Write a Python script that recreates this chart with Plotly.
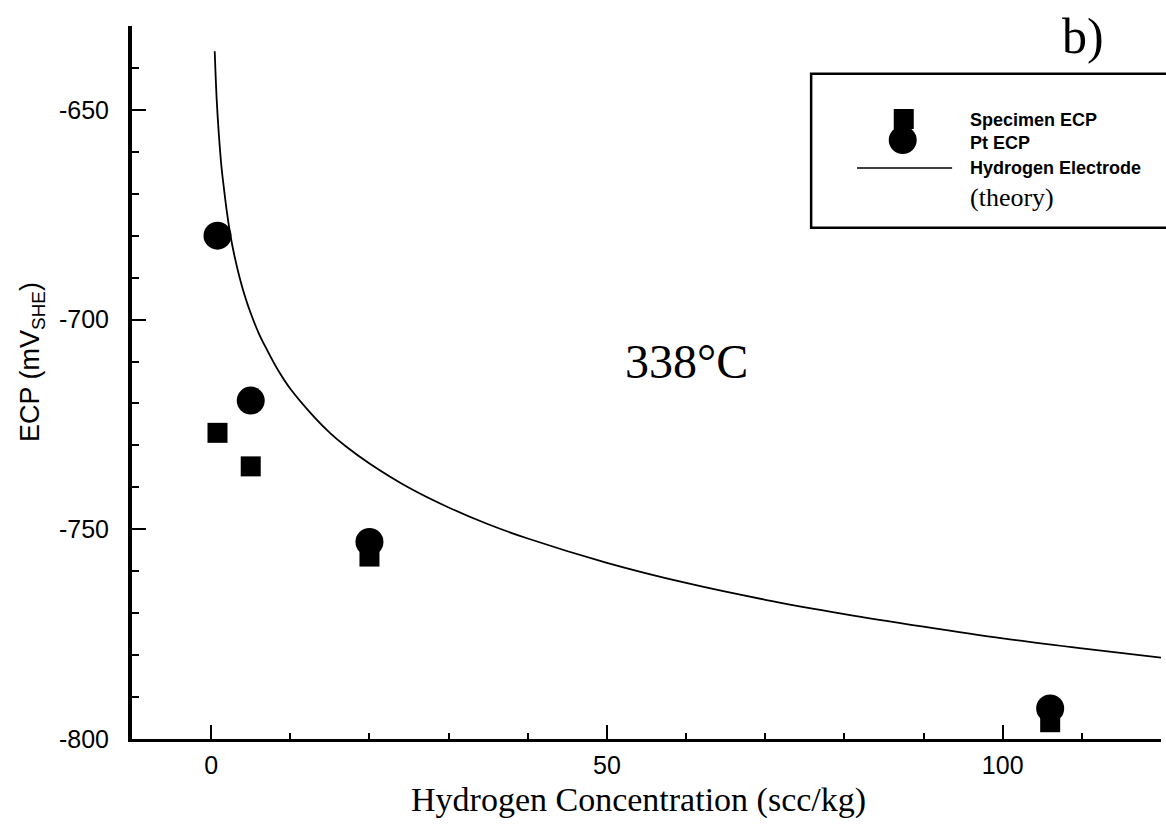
import plotly.graph_objects as go

# ---- data ----
spec_x = [0.8, 5.0, 20.0, 106.0]
spec_y = [-727.0, -735.0, -756.5, -796.0]

pt_x = [0.8, 5.0, 20.0, 106.0]
pt_y = [-680.0, -719.3, -753.0, -792.7]

theory_x = [0.45, 0.7, 0.96, 1.3, 1.6, 2.0, 2.44, 3.0, 3.6, 4.2, 5.0, 6.0, 7.0, 8.5, 10.0,
            13.0, 15.0, 17.0, 20.0, 25.0, 30.0, 35.0, 40.0, 50.0,
            60.0, 70.0, 80.0, 90.0, 100.0, 110.0, 120.0]
theory_y = [-636.0, -647.5, -655.5, -663.5, -668.5, -674.5, -680.0, -685.3, -690.0, -694.0,
            -698.5, -703.2, -707.0, -712.2, -716.5, -723.2, -727.0, -730.2, -734.3, -740.1,
            -744.8, -748.8, -752.2, -758.0, -762.8, -766.8, -770.2, -773.2, -776.0, -778.4, -780.6]

x_range = [-10, 120]
y_range = [-800, -630]
x_tickvals = [0, 50, 100]
x_ticktext = ["0", "50", "100"]
y_tickvals = [-800, -750, -700, -650]
y_ticktext = ["-800", "-750", "-700", "-650"]

SANS = "Liberation Sans, Arial, sans-serif"
SERIF = "Liberation Serif, Times New Roman, serif"

fig = go.Figure()
fig.add_trace(go.Scatter(x=theory_x, y=theory_y, mode="lines",
                         line=dict(color="black", width=1.8, shape="spline", smoothing=1.0),
                         showlegend=False, hoverinfo="skip"))
fig.add_trace(go.Scatter(x=spec_x, y=spec_y, mode="markers",
                         marker=dict(symbol="square", size=20, color="black"),
                         showlegend=False, cliponaxis=False))
fig.add_trace(go.Scatter(x=pt_x, y=pt_y, mode="markers",
                         marker=dict(symbol="circle", size=28, color="black"),
                         showlegend=False, cliponaxis=False))

axis_common = dict(showgrid=False, zeroline=False, showline=True, linecolor="black",
                   ticks="inside", tickcolor="black", tickwidth=2, ticklen=14,
                   tickmode="array",
                   tickfont=dict(family=SANS, size=25, color="black"))

fig.update_xaxes(range=x_range, tickvals=x_tickvals, ticktext=x_ticktext, linewidth=3,
                 minor=dict(tickmode="linear", dtick=10, tick0=0, ticks="inside", ticklen=6,
                            tickwidth=2, tickcolor="black"),
                 ticklabelstandoff=2,
                 **axis_common)
fig.update_yaxes(range=y_range, tickvals=y_tickvals, ticktext=y_ticktext, linewidth=4,
                 minor=dict(tickmode="linear", dtick=10, tick0=-800, ticks="inside", ticklen=7,
                            tickwidth=2, tickcolor="black"),
                 ticklabelstandoff=14,
                 **axis_common)

annotations = [
    dict(text="ECP (mV<sub>SHE</sub>)", xref="paper", yref="paper", x=0, xshift=-100,
         y=0.5288, textangle=-90, showarrow=False, xanchor="center", yanchor="middle",
         font=dict(family=SANS, size=27, color="black")),
    dict(text="Hydrogen Concentration (scc/kg)", xref="paper", yref="paper", x=0.492, y=0,
         yshift=-61, showarrow=False, xanchor="center", yanchor="middle",
         font=dict(family=SERIF, size=34, color="black")),
    dict(text="b)", xref="paper", yref="paper", x=0.924, y=0.986, showarrow=False,
         xanchor="center", yanchor="middle", font=dict(family=SERIF, size=50, color="black")),
    dict(text="338°C", x=60, y=-710, showarrow=False, xanchor="center", yanchor="middle",
         font=dict(family=SERIF, size=48, color="black")),
    dict(text="<b>Specimen ECP</b>", xref="paper", yref="paper", x=0.8124, y=0.8682, showarrow=False,
         xanchor="left", yanchor="middle", font=dict(family=SANS, size=18, color="black")),
    dict(text="<b>Pt ECP</b>", xref="paper", yref="paper", x=0.8124, y=0.8359, showarrow=False,
         xanchor="left", yanchor="middle", font=dict(family=SANS, size=18, color="black")),
    dict(text="<b>Hydrogen Electrode</b>", xref="paper", yref="paper", x=0.8124, y=0.8009, showarrow=False,
         xanchor="left", yanchor="middle", font=dict(family=SANS, size=18, color="black")),
    dict(text="(theory)", xref="paper", yref="paper", x=0.8124, y=0.760, showarrow=False,
         xanchor="left", yanchor="middle", font=dict(family=SERIF, size=26, color="black")),
]

shapes = [
    dict(type="rect", xref="paper", yref="paper", x0=0.660, x1=1.012, y0=0.717, y1=0.933,
         line=dict(color="black", width=2.5), fillcolor="white", layer="below"),
    dict(type="rect", xref="paper", yref="paper", xsizemode="pixel", ysizemode="pixel",
         xanchor=0.750, yanchor=0.8696, x0=-10, x1=10, y0=-10, y1=10,
         fillcolor="black", line=dict(width=0)),
    dict(type="circle", xref="paper", yref="paper", xsizemode="pixel", ysizemode="pixel",
         xanchor=0.749, yanchor=0.840, x0=-14, x1=14, y0=-14, y1=14,
         fillcolor="black", line=dict(width=0)),
    dict(type="line", xref="paper", yref="paper", x0=0.7046, x1=0.797, y0=0.8009, y1=0.8009,
         line=dict(color="black", width=1.5)),
]

fig.update_layout(width=1166, height=827, margin=dict(l=132, r=5, t=26, b=88),
                  paper_bgcolor="white", plot_bgcolor="white",
                  annotations=annotations, shapes=shapes, showlegend=False)

fig.write_html("out.html")
